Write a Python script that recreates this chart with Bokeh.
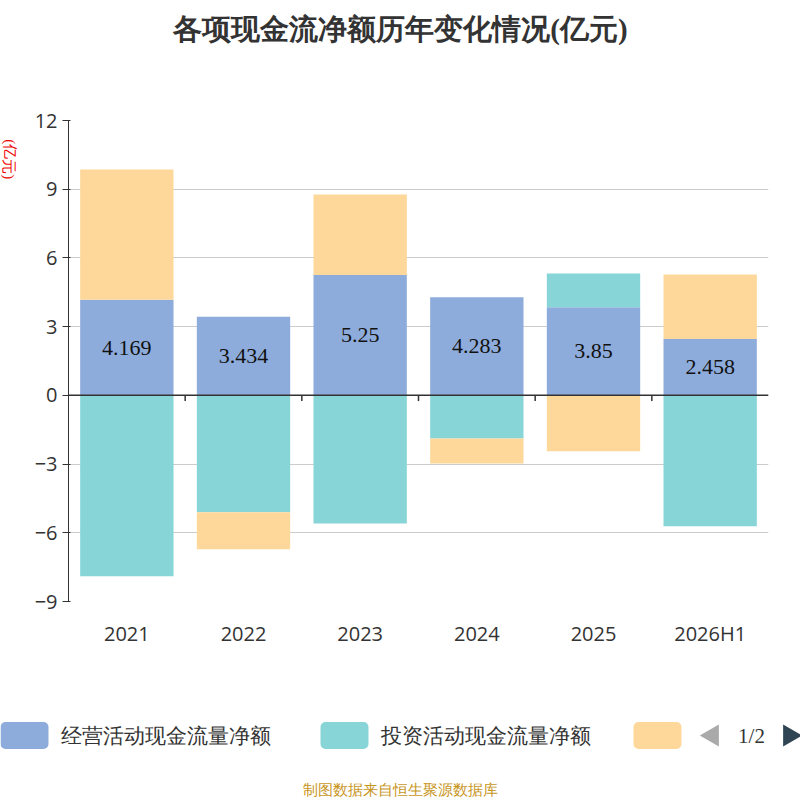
from bokeh.plotting import figure
from bokeh.models import Range1d, FixedTicker, Span, ColumnDataSource
from bokeh.layouts import column, row
from bokeh.embed import file_html
from bokeh.resources import INLINE

years = ["2021", "2022", "2023", "2024", "2025", "2026H1"]
operating = [4.169, 3.434, 5.25, 4.283, 3.85, 2.458]
investing = [-7.9, -5.1, -5.6, -1.88, 1.47, -5.72]
financing = [5.69, -1.62, 3.52, -1.09, -2.44, 2.82]
series_names = ["经营活动现金流量净额", "投资活动现金流量净额", "筹资活动现金流量净额"]
colors = ["#8eacdb", "#88d5d8", "#fdd89a"]
yticks = [-9, -6, -3, 0, 3, 6, 9, 12]
CJK = "Noto Sans CJK SC"


def blank(w, h, xr, yr):
    f = figure(width=w, height=h, x_range=xr, y_range=yr, output_backend="svg",
               toolbar_location=None, min_border=0, x_axis_location=None, y_axis_location=None)
    f.grid.visible = False
    f.outline_line_color = None
    return f


# title
t = blank(800, 100, Range1d(0, 800), Range1d(100, 0))
t.text(x=[400], y=[28], text=["各项现金流净额历年变化情况(亿元)"], text_align="center",
       text_baseline="middle", text_font=CJK, text_font_size="29px",
       text_font_style="bold", text_color="#333333")

# left strip with unit label
s = blank(20, 560, Range1d(0, 20), Range1d(560, 0))
s.text(x=[9], y=[45], text=["(亿元)"], angle=-1.5708, text_align="center",
       text_baseline="middle", text_font=CJK, text_font_size="15px", text_color="#ee0000")

p = figure(width=780, height=560, x_range=Range1d(0, 6), y_range=Range1d(-9, 12),
           output_backend="svg", toolbar_location=None,
           min_border_left=48, min_border_right=32, min_border_top=20, min_border_bottom=59)
p.outline_line_color = None
p.xgrid.grid_line_color = None
p.ygrid.grid_line_color = "#cccccc"
p.ygrid.grid_line_width = 1.2
p.yaxis.ticker = FixedTicker(ticks=yticks)
p.yaxis.major_label_text_font_size = "20px"
p.yaxis.major_label_text_color = "#333333"
p.yaxis.major_label_text_font = "Open Sans"
p.yaxis.axis_line_color = "#333333"
p.yaxis.major_tick_line_color = "#333333"
p.yaxis.major_tick_out = 6
p.yaxis.minor_tick_line_color = None
p.xaxis.ticker = FixedTicker(ticks=[i + 0.5 for i in range(len(years))])
p.xaxis.major_label_overrides = {i + 0.5: y for i, y in enumerate(years)}
p.xaxis.major_label_text_font_size = "20px"
p.xaxis.major_label_text_color = "#333333"
p.xaxis.major_label_text_font = "Open Sans"
p.xaxis.axis_line_color = None
p.xaxis.major_tick_line_color = None
p.xaxis.minor_tick_line_color = None
p.xaxis.major_label_standoff = 12

xs = [i + 0.5 for i in range(len(years))]
allser = [operating, investing, financing]
for k, vals in enumerate(allser):
    bottoms, tops = [], []
    for i in range(len(years)):
        v = vals[i]
        if v >= 0:
            base = sum(sv[i] for sv in allser[:k] if sv[i] >= 0)
        else:
            base = sum(sv[i] for sv in allser[:k] if sv[i] < 0)
        bottoms.append(base)
        tops.append(base + v)
    p.vbar(x=xs, bottom=bottoms, top=tops, width=0.8, fill_color=colors[k], line_color=None)

p.add_layout(Span(location=0, dimension="width", line_color="#333333", line_width=1.5))
p.segment(x0=list(range(1, len(years))), x1=list(range(1, len(years))),
          y0=[0] * (len(years) - 1), y1=[-0.25] * (len(years) - 1), line_color="#333333", line_width=1.5)

src = ColumnDataSource(dict(x=xs, y=[v / 2 for v in operating], t=[str(v) for v in operating]))
p.text(x="x", y="y", text="t", source=src, text_align="center", text_baseline="middle",
       text_font_size="22px", text_color="#111111", text_font="Open Sans")

# legend / footer
q = blank(800, 140, Range1d(0, 800), Range1d(800, 660))
rect_x = [24, 344, 657]
text_x = [60, 380]
for i in range(3):
    q.rect(x=[rect_x[i]], y=[735], width=48, height=27, fill_color=colors[i], line_color=None,
           border_radius=5)
for i in range(2):
    q.text(x=[text_x[i]], y=[735], text=[series_names[i]], text_baseline="middle",
           text_font_size="21px", text_color="#333333", text_font=CJK)
q.scatter(x=[712], y=[735], marker="triangle", size=22, angle=1.5708, fill_color="#aaaaaa", line_color=None)
q.scatter(x=[789], y=[735], marker="triangle", size=22, angle=-1.5708, fill_color="#2f4554", line_color=None)
q.text(x=[751], y=[735], text=["1/2"], text_align="center", text_baseline="middle",
       text_font_size="21px", text_color="#333333", text_font="Open Sans")
q.text(x=[400], y=[789], text=["制图数据来自恒生聚源数据库"], text_align="center", text_baseline="middle",
       text_font_size="15px", text_color="#c8961e", text_font=CJK)

layout = column(t, row(s, p, spacing=0), q, spacing=0)
open("out.html", "w").write(file_html(layout, INLINE))
